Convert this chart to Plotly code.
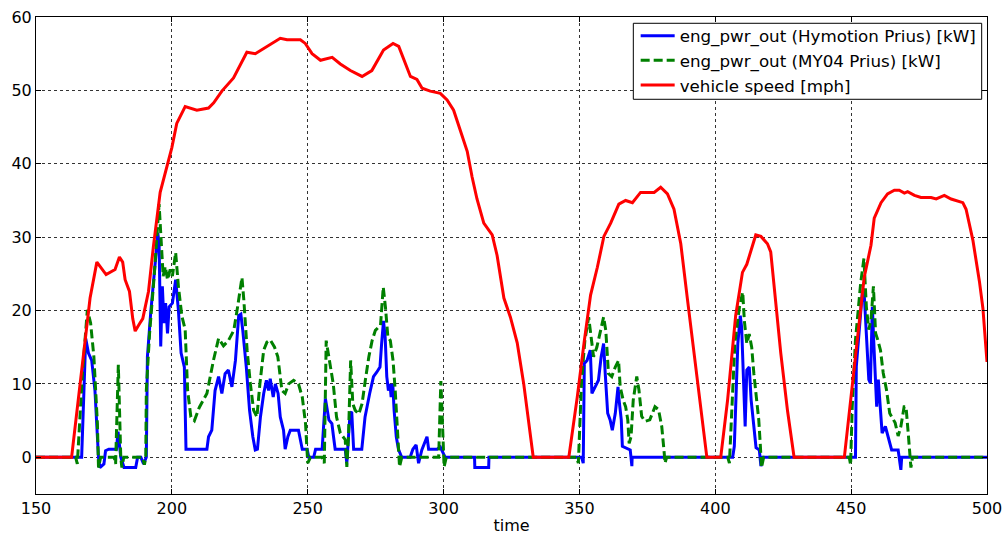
import plotly.graph_objects as go

# Engine power output, Hymotion Prius [kW]
t_hymotion = [150, 166.8, 168.3, 169.3, 170.5, 171.7, 173.0, 173.5, 175.0, 175.6, 176.8, 179.6, 180.2, 181.2,
              182.4, 186.7, 187.4, 188.6, 189.6, 190.6, 191.0, 192.2, 194.1, 194.8, 195.3, 195.9, 196.5, 197.1,
              197.7, 198.4, 199.0, 200.2, 201.4, 202.4, 203.4, 204.6, 205.2, 212.9, 213.5, 214.7, 215.9, 217.2,
              218.4, 219.6, 220.8, 222.1, 223.4, 224.6, 225.4, 226.1, 227.4, 228.6, 229.8, 230.7, 231.5, 232.6,
              233.8, 234.8, 235.6, 236.2, 237.3, 238.1, 239.1, 239.9, 241.1, 241.7, 242.7, 243.6, 246.6, 248.0,
              249.8, 250.4, 252.2, 252.9, 255.3, 256.5, 257.8, 258.9, 259.5, 260.1, 263.8, 264.4, 265.0, 265.6,
              266.2, 266.9, 269.9, 271.1, 272.8, 274.2, 275.4, 276.6, 277.2, 277.9, 278.5, 279.1, 279.7, 280.3,
              280.7, 281.3, 281.8, 282.6, 283.4, 284.6, 287.7, 288.7, 289.9, 290.8, 292.0, 293.3, 293.9, 294.5,
              297.6, 298.8, 299.8, 300.6, 311.4, 311.5, 316.6, 316.7, 350.8, 351.4, 351.8, 352.8, 354.0, 354.6,
              355.8, 357.0, 358.0, 358.9, 359.5, 360.4, 361.3, 362.1, 363.2, 364.2, 364.6, 365.4, 365.8, 367.2,
              368.7, 369.3, 369.4, 406.4, 407.0, 408.3, 409.2, 409.7, 410.4, 411.0, 411.6, 412.5, 413.2, 414.2,
              415.0, 416.2, 416.8, 417.4, 451.6, 451.9, 452.9, 454.1, 454.7, 455.6, 456.5, 457.1, 457.8, 458.4,
              459.4, 460.0, 460.8, 461.4, 462.6, 464.1, 464.9, 467.3, 468.3, 468.6, 500]
p_hymotion = [0, 0, 16.2, 14.2, 13.2, 9.1, 0, -1.4, -0.9, 0.9, 1.1, 1.1, 3.5, 0,
              -1.4, -1.4, 0, 0, -0.9, 0, 13.7, 19.6, 27.4, 30.6, 29.2, 15.1, 23.3, 18.3,
              21.0, 16.9, 20.5, 21.0, 24.2, 20.1, 14.2, 12.3, 1.1, 1.1, 2.8, 3.7, 9.1, 11.0,
              8.7, 11.4, 11.9, 9.6, 13.2, 19.3, 19.5, 17.3, 12.3, 6.4, 2.8, 1.0, 1.1, 5.5,
              8.7, 10.5, 9.1, 10.7, 8.2, 10.0, 8.7, 5.5, 3.7, 1.1, 2.8, 3.7, 3.7, 1.1,
              1.1, 0, 0, 1.1, 1.1, 8.0, 5.1, 4.6, 2.8, 1.1, 1.1, -0.8, 2.8, 6.0,
              6.2, 1.1, 1.1, 5.5, 8.7, 11.0, 11.6, 12.3, 15.5, 18.6, 16.4, 11.0, 9.1, 10.0,
              8.2, 10.0, 6.4, 2.8, 1.1, 0, 0, 1.1, 1.7, -0.8, 1.0, 2.4, 2.8, 1.1,
              1.1, 1.4, 0.5, 0, 0, -1.4, -1.4, 0, 0, -0.8, 12.8, 13.2, 14.6, 8.7,
              9.6, 10.5, 13.7, 15.5, 11.4, 6.0, 5.1, 3.7, 6.0, 9.6, 7.8, 5.1, 1.5, 1.3,
              1.0, -1.2, 0, 0, 1.5, 15.5, 19.3, 17.7, 11.4, 4.2, 11.9, 12.3, 7.8, 4.2,
              1.3, 1.0, -1.2, 0, 0, 12.4, 17.4, 22.4, 23.0, 16.0, 10.6, 10.1, 20.5, 15.1,
              6.9, 10.6, 5.6, 3.3, 4.2, 2.0, 1.0, 1.0, -1.7, 0, 0]

# Engine power output, MY04 Prius [kW]
t_my04 = [150, 164.6, 165.2, 167.1, 168.9, 170.1, 171.3, 172.6, 173.0, 173.8, 178.8, 179.3, 180.3, 181.2,
          181.6, 182.3, 189.2, 189.9, 190.4, 190.6, 191.8, 193.5, 195.3, 195.9, 196.8, 197.6, 198.4, 199.4,
          200.2, 201.4, 202.4, 203.7, 204.9, 205.8, 207.0, 208.3, 210.1, 212.9, 215.3, 217.2, 219.0, 220.8,
          222.8, 224.2, 225.8, 226.5, 227.7, 228.9, 230.1, 231.3, 232.4, 233.8, 235.0, 236.2, 237.8, 239.0,
          240.5, 241.7, 243.0, 244.8, 246.6, 248.0, 249.2, 250.0, 251.0, 255.3, 256.1, 256.8, 258.1, 259.4,
          260.6, 262.0, 263.8, 264.4, 265.0, 265.8, 266.6, 267.5, 268.8, 270.0, 271.2, 272.5, 273.7, 274.9,
          276.8, 277.8, 278.6, 279.5, 280.4, 281.4, 282.2, 282.8, 283.4, 283.8, 284.6, 298.2, 299.0, 299.8,
          300.2, 301.0, 349.0, 349.6, 350.8, 352.0, 353.4, 354.3, 355.2, 356.4, 357.7, 358.9, 359.7, 360.7,
          361.9, 363.2, 364.4, 365.0, 366.1, 367.0, 367.8, 368.3, 369.0, 369.8, 371.1, 371.9, 372.9, 374.1,
          375.9, 377.8, 379.1, 380.3, 381.2, 381.5, 382.1, 404.6, 405.2, 406.0, 407.2, 408.9, 410.1, 410.7,
          411.6, 412.5, 413.4, 414.2, 415.0, 416.0, 416.6, 417.0, 417.8, 449.3, 449.8, 450.4, 451.6, 453.5,
          454.7, 455.6, 456.5, 457.3, 458.2, 459.0, 459.8, 460.8, 461.8, 463.0, 464.2, 465.4, 466.2, 467.3,
          468.3, 469.5, 470.2, 471.0, 471.6, 472.0, 472.6, 500]
p_my04 = [0, 0, -0.9, 11.4, 20.1, 18.3, 13.7, 4.6, -1.4, 0, 0, -0.9, 12.6, 0,
          -1.4, 0, 0, -1.0, 0, 9.1, 16.9, 24.7, 34.5, 29.7, 24.7, 26.0, 24.2, 25.6,
          24.7, 27.9, 23.3, 19.2, 17.4, 9.1, 5.5, 5.0, 6.8, 8.7, 13.2, 16.2, 15.2, 15.9,
          17.3, 20.5, 24.5, 21.4, 14.6, 10.0, 6.4, 5.5, 10.0, 14.6, 15.7, 16.0, 15.0, 13.7,
          9.1, 8.7, 10.0, 10.5, 10.0, 8.2, 4.6, -0.8, 0, 0, -0.8, 15.9, 13.2, 10.0,
          5.5, 3.3, 2.4, -1.3, 2.8, 13.2, 7.3, 6.4, 5.9, 7.3, 10.5, 13.7, 15.9, 17.3,
          18.0, 23.2, 20.5, 16.4, 15.9, 13.2, 9.1, 4.6, 1.0, -1.3, 0, 0, 10.4, 2.8,
          -1.3, 0, 0, -0.8, 10.5, 15.9, 19.1, 16.4, 13.7, 15.0, 17.3, 19.1, 17.3, 11.4,
          11.0, 12.3, 13.2, 9.6, 7.8, 6.9, 5.1, 1.9, 2.8, 7.8, 11.0, 9.2, 5.6, 4.9,
          5.1, 6.9, 6.5, 4.2, 0.6, -0.8, 0, 0, -0.8, 6.5, 15.5, 20.5, 22.5, 18.6,
          15.5, 16.8, 15.0, 11.4, 8.7, 5.1, 1.5, -1.4, 0, 0, -1.0, 6.9, 16.0, 23.7,
          27.1, 20.5, 17.4, 18.7, 23.3, 16.9, 16.0, 14.6, 11.5, 9.2, 6.0, 5.1, 4.7, 2.9,
          4.2, 6.9, 6.9, 3.3, 0.6, -1.4, 0, 0]

# Vehicle speed [mph]
t_speed = [150, 163.1, 169.9, 172.4, 175.8, 179.1, 180.7, 181.9, 182.8, 184.4, 185.6, 186.5, 188.1, 189.3,
           191.4, 193.2, 195.7, 197.5, 200.0, 201.8, 204.9, 209.2, 213.5, 215.4, 218.4, 222.7, 225.2, 227.6,
           230.7, 233.8, 236.9, 239.9, 242.4, 247.3, 249.1, 251.6, 254.7, 259.0, 262.0, 265.7, 270.0, 273.6,
           277.9, 281.4, 283.5, 285.9, 287.8, 290.2, 292.1, 295.1, 298.8, 301.3, 303.7, 306.2, 308.7, 310.5,
           312.3, 314.8, 317.9, 319.7, 322.2, 324.6, 327.1, 329.5, 331.4, 333.0, 346.1, 349.2, 351.7, 354.1,
           356.6, 359.0, 361.5, 364.5, 367.0, 369.5, 372.5, 377.5, 379.9, 382.4, 384.8, 387.3, 389.7, 392.2,
           394.6, 396.9, 402.0, 404.5, 407.5, 410.0, 411.6, 413.1, 414.9, 416.8, 419.2, 420.4, 422.3, 424.1,
           426.6, 429.0, 447.5, 449.9, 452.4, 454.8, 457.3, 458.5, 461.0, 463.4, 465.9, 467.7, 469.6, 470.8,
           473.3, 475.7, 479.4, 481.3, 484.3, 486.8, 491.1, 492.3, 494.8, 497.2, 498.5, 500.0]
v_speed = [0, 0, 21.7, 26.6, 24.9, 25.6, 27.3, 26.6, 24.2, 22.6, 18.9, 17.2, 18.2, 18.9,
           22.6, 28.7, 36.1, 38.5, 42.2, 45.5, 47.8, 47.3, 47.6, 48.3, 49.9, 51.7, 53.6, 55.2,
           55.0, 55.7, 56.4, 57.1, 56.9, 56.9, 56.4, 55.0, 54.1, 54.5, 53.6, 52.7, 51.9, 52.7,
           55.5, 56.4, 56.0, 53.8, 51.9, 51.5, 50.3, 49.9, 49.6, 48.7, 47.3, 44.5, 41.7, 38.2,
           35.2, 31.9, 30.3, 27.5, 21.7, 19.1, 15.6, 10.0, 4.9, 0, 0, 8.2, 15.6, 22.1,
           25.9, 30.1, 31.9, 34.5, 35.0, 34.7, 36.1, 36.1, 36.8, 35.9, 33.8, 29.1, 21.7, 14.2,
           6.3, 0, 0, 7.7, 19.3, 25.2, 26.3, 28.2, 30.3, 30.1, 29.1, 28.0, 21.2, 14.2,
           6.3, 0, 0, 8.2, 16.6, 24.5, 28.9, 32.6, 34.7, 35.9, 36.4, 36.4, 36.0, 36.2,
           35.7, 35.4, 35.4, 35.2, 35.7, 35.2, 34.7, 33.8, 29.6, 24.0, 20.3, 13.0]

FONT = "DejaVu Sans, Liberation Sans, Arial, sans-serif"

fig = go.Figure()
fig.add_trace(go.Scatter(x=t_hymotion, y=p_hymotion, mode="lines",
                         name="eng_pwr_out (Hymotion Prius) [kW]",
                         line=dict(color="#0000FF", width=3)))
fig.add_trace(go.Scatter(x=t_my04, y=p_my04, mode="lines",
                         name="eng_pwr_out (MY04 Prius) [kW]",
                         line=dict(color="#008000", width=3, dash="9px,4px")))
fig.add_trace(go.Scatter(x=t_speed, y=v_speed, mode="lines",
                         name="vehicle speed [mph]",
                         line=dict(color="#FF0000", width=3)))

axis_common = dict(
    automargin=False,
    showline=True, linecolor="black", linewidth=1, mirror="ticks",
    ticks="inside", ticklen=5, tickcolor="black", tickwidth=1,
    showgrid=True, gridcolor="#333333", gridwidth=1, griddash="dot",
    zeroline=False, tickfont=dict(family=FONT, size=16, color="black"),
)

# Legend frame: a white box with a thin black border behind the legend entries
fig.add_shape(type="rect", xref="paper", yref="paper",
              x0=0.6281, x1=0.9944, y0=0.8275, y1=0.9868,
              fillcolor="white", line=dict(color="black", width=1), layer="above")

fig.update_layout(
    width=1005, height=537,
    margin=dict(l=36, r=18, t=17, b=43),
    paper_bgcolor="white", plot_bgcolor="white",
    font=dict(family=FONT, size=16, color="black"),
    xaxis=dict(range=[150, 500], dtick=50, tick0=150,
               title=dict(text="time", font=dict(family=FONT, size=16), standoff=2),
               **axis_common),
    yaxis=dict(range=[-5, 60], dtick=10, tick0=0, **axis_common),
    legend=dict(x=0.9944, y=0.9973, xanchor="right", yanchor="top",
                bgcolor="rgba(0,0,0,0)", borderwidth=0,
                font=dict(family=FONT, size=16.7, color="black"),
                itemwidth=34, tracegroupgap=0),
    showlegend=True,
)

fig.write_html("out.html")
